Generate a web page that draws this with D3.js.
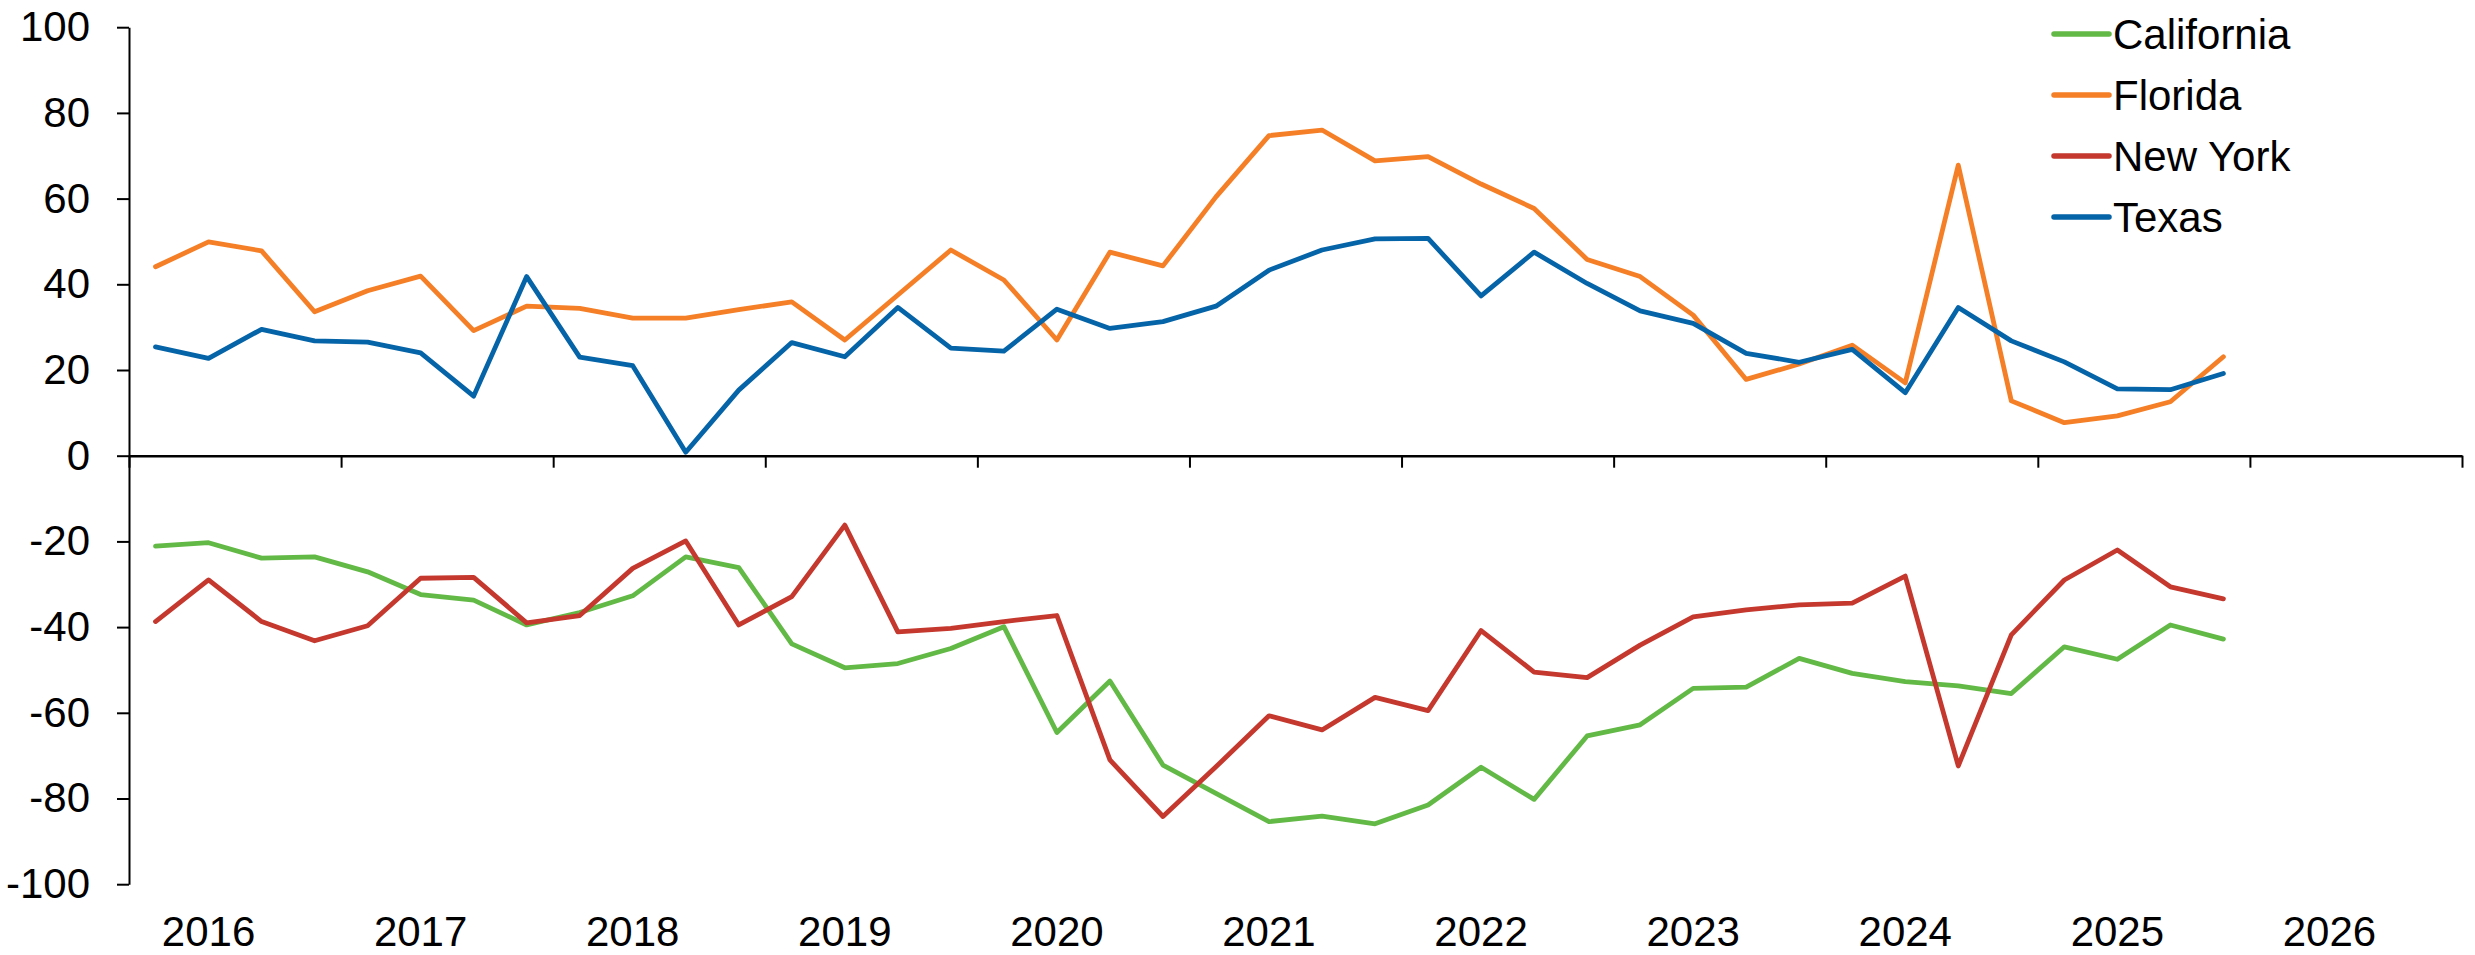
<!DOCTYPE html>
<html>
<head>
<meta charset="utf-8">
<script src="https://cdn.jsdelivr.net/npm/d3@7"></script>
<style>
    body { margin: 0; background: #fff; }
    svg { display: block; font-family: "Liberation Sans", Arial, sans-serif; }
    .axis text { font-size: 42px; fill: #000; }
    .axis path, .axis line { stroke: #000; }
    .line { fill: none; stroke-width: 4.8px; stroke-linejoin: round; stroke-linecap: round; }
</style>
</head>
<body>
<svg width="2475" height="955"></svg>
<script>
// quarterly, 2016Q1 .. 2025Q4
var years = ["2016", "2017", "2018", "2019", "2020", "2021", "2022", "2023", "2024", "2025", "2026"];
var seriesNames = ["California", "Florida", "New York", "Texas"];
var seriesColors = ["#63b946", "#f57f26", "#c4382e", "#0563a8"];
var yTicks = [100, 80, 60, 40, 20, 0, -20, -40, -60, -80, -100];

var california = [-21.1, -20.3, -23.9, -23.6, -27.1, -32.4, -33.7, -39.5, -36.6, -32.7,
    -23.6, -26.1, -43.9, -49.5, -48.5, -45.0, -39.9, -64.6, -52.6, -72.2,
    -78.8, -85.4, -84.1, -85.9, -81.5, -72.7, -80.2, -65.4, -62.8, -54.3,
    -54.0, -47.3, -50.8, -52.7, -53.7, -55.5, -44.6, -47.5, -39.5, -42.8];
var florida = [44.1, 49.9, 47.8, 33.6, 38.5, 41.9, 29.2, 34.9, 34.4, 32.1,
    32.1, 34.1, 35.9, 27.0, 37.5, 48.0, 41.0, 27.0, 47.5, 44.3,
    60.4, 74.7, 76.0, 68.8, 69.8, 63.4, 57.7, 45.8, 41.8, 32.8,
    17.8, 21.4, 25.8, 17.0, 67.8, 12.8, 7.7, 9.3, 12.6, 23.1];
var newYork = [-38.7, -29.0, -38.7, -43.2, -39.7, -28.6, -28.4, -39.0, -37.3, -26.3,
    -19.9, -39.5, -32.9, -16.2, -41.1, -40.3, -38.7, -37.3, -71.0, -84.2,
    -72.6, -60.7, -64.0, -56.4, -59.5, -40.8, -50.5, -51.8, -44.2, -37.6,
    -36.0, -34.8, -34.4, -28.1, -72.4, -41.8, -29.0, -22.0, -30.6, -33.4];
var texas = [25.4, 22.7, 29.5, 26.8, 26.5, 24.0, 13.9, 41.8, 23.0, 21.0,
    0.8, 15.3, 26.4, 23.1, 34.6, 25.1, 24.4, 34.2, 29.7, 31.3,
    34.9, 43.3, 48.0, 50.6, 50.7, 37.3, 47.5, 40.2, 33.8, 30.9,
    23.9, 21.8, 24.8, 14.7, 34.6, 26.8, 21.9, 15.6, 15.4, 19.2];

var allValues = [california, florida, newYork, texas];

(function () {
    var svg = d3.select("svg"),
        plot = {left: 129, right: 2462, top: 27.2, bottom: 884.2};

    // x runs over quarter slots, 4 per year; points sit mid-quarter
    var scaleX = d3.scaleLinear().domain([0, years.length * 4]).range([plot.left, plot.right]),
        scaleY = d3.scaleLinear().domain([-100, 100]).range([plot.bottom, plot.top]);

    var line = d3.line()
        .x(function (d, i) { return scaleX(i + 0.5); })
        .y(function (d) { return scaleY(d); });

    // y axis (plain hyphen for negatives, like the original)
    var axisY = svg.append("g")
        .attr("class", "axis axis--y")
        .attr("transform", "translate(" + plot.left + ",0)")
        .call(d3.axisLeft(scaleY).tickValues(yTicks).tickSize(12).tickSizeOuter(0).tickPadding(27)
            .tickFormat(function (d) { return String(d); }));
    axisY.select(".domain").attr("stroke-width", 2);
    axisY.selectAll(".tick line").attr("stroke-width", 2);
    axisY.selectAll(".tick text").attr("font-size", null);

    // zero line with year ticks
    var yearTicks = d3.range(0, years.length * 4 + 1, 4);
    var axisX = svg.append("g")
        .attr("class", "axis axis--x")
        .attr("transform", "translate(0," + scaleY(0) + ")")
        .call(d3.axisBottom(scaleX).tickValues(yearTicks).tickSize(12).tickSizeOuter(0).tickFormat(""));
    axisX.select(".domain").attr("stroke-width", 2.5);
    axisX.selectAll(".tick line").attr("stroke-width", 2);

    // year labels along the bottom
    svg.append("g")
        .attr("class", "axis")
        .selectAll("text")
        .data(years)
        .enter().append("text")
        .attr("x", function (d, i) { return scaleX(i * 4 + 1.5); })
        .attr("y", 946)
        .attr("text-anchor", "middle")
        .text(function (d) { return d; });

    // series
    svg.append("g").selectAll("path")
        .data(allValues)
        .enter().append("path")
        .attr("class", "line")
        .attr("d", function (d) { return line(d); })
        .style("stroke", function (d, i) { return seriesColors[i]; });

    // legend
    var legend = svg.append("g").selectAll("g")
        .data(seriesNames)
        .enter().append("g")
        .attr("transform", function (d, i) { return "translate(2054," + (34 + i * 61) + ")"; });

    legend.append("line")
        .attr("x1", 0).attr("x2", 55)
        .attr("stroke-width", 5.5)
        .attr("stroke-linecap", "round")
        .attr("stroke", function (d, i) { return seriesColors[i]; });

    legend.append("text")
        .attr("x", 59)
        .attr("dy", "0.35em")
        .style("font-size", "42px")
        .text(function (d) { return d; });
})();
</script>
</body>
</html>
